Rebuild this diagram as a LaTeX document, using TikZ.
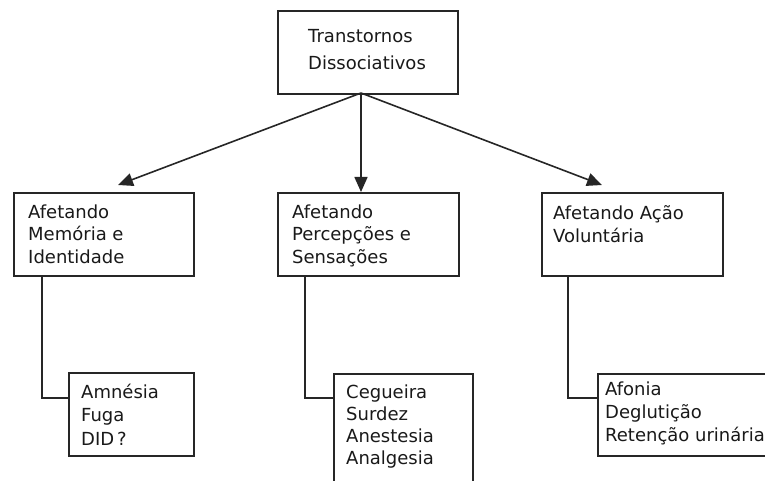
\documentclass[tikz,border=0pt]{standalone}
\usepackage{fontspec}
\setmainfont{DejaVu Sans}
\usetikzlibrary{arrows.meta}
\tikzset{
  box/.style={draw=black!85, line width=1.6pt, rectangle, inner sep=0pt, anchor=north west},
  lbl/.style={anchor=base west, inner sep=0pt, align=left, font=\fontsize{18pt}{22.5pt}\selectfont, text=black!90},
  conn/.style={draw=black!85, line width=1.6pt},
  arr/.style={conn, -{Triangle[length=15pt,width=13pt]}}
}
\begin{document}
\begin{tikzpicture}[x=1pt,y=-1pt]
\useasboundingbox (0,0) rectangle (765,481);
\clip (0,0) rectangle (765,481);
% top
\node[box, minimum width=180pt, minimum height=83pt] (top) at (277,10) {};
\node[lbl, font=\fontsize{18pt}{27pt}\selectfont] (toplbl) at (308,70) {Transtornos\\Dissociativos};
% middle row
\node[box, minimum width=180pt, minimum height=83pt] (m1) at (13,192) {};
\node[lbl] (m1lbl) at (28,263) {Afetando\\Memória e\\Identidade};
\node[box, minimum width=181pt, minimum height=83pt] (m2) at (277,192) {};
\node[lbl] (m2lbl) at (292,263) {Afetando\\Percepções e\\Sensações};
\node[box, minimum width=181pt, minimum height=83pt] (m3) at (541,192) {};
\node[lbl] (m3lbl) at (553,242) {Afetando Ação\\Voluntária};
% bottom row
\node[box, minimum width=125pt, minimum height=83pt] (b1) at (68,372) {};
\node[lbl, font=\fontsize{18pt}{23.5pt}\selectfont] (b1lbl) at (81,445) {Amnésia\\Fuga\\DID\,?};
\node[box, minimum width=139pt, minimum height=120pt] (b2) at (333,373) {};
\node[lbl, font=\fontsize{18pt}{22pt}\selectfont] (b2lbl) at (346,464) {Cegueira\\Surdez\\Anestesia\\Analgesia};
\node[box, minimum width=200pt, minimum height=82pt] (b3) at (597,373) {};
\node[lbl, font=\fontsize{18pt}{23pt}\selectfont] (b3lbl) at (605,441) {Afonia\\Deglutição\\Retenção urinária};
% arrows
\coordinate (apex) at (361,93);
\coordinate (t1) at (118,185);
\coordinate (t3) at (602,185);
\draw[arr] (apex) -- (t1);
\draw[arr] (apex) -- (361,190 |- m2.north);
\draw[arr] (apex) -- (t3);
% elbow connectors
\draw[conn] (m1.south west) ++(29,0) coordinate (c1) |- (b1.west |- 0,398);
\draw[conn] (m2.south west) ++(28,0) coordinate (c2) |- (b2.west |- 0,398);
\draw[conn] (m3.south west) ++(27,0) coordinate (c3) |- (b3.west |- 0,398);
\end{tikzpicture}
\end{document}
